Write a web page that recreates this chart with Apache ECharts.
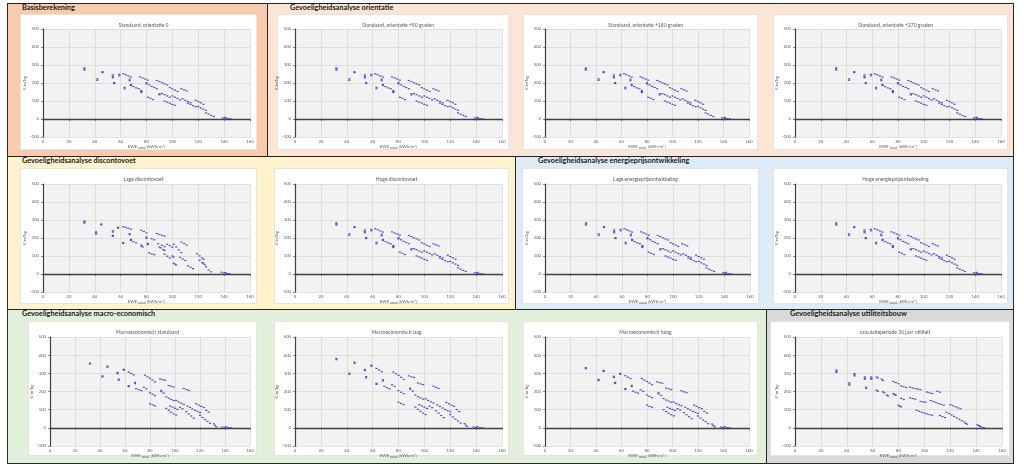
<!DOCTYPE html>
<html><head><meta charset="utf-8">
<script src="https://cdn.jsdelivr.net/npm/echarts@6/dist/echarts.min.js"></script>
<style>
html,body{margin:0;padding:0;background:#fff;width:1024px;height:473px;overflow:hidden;font-family:Lato,"Open Sans",sans-serif}
.panel{position:absolute;box-sizing:border-box;border:1px solid #262626}
.hdr{position:absolute;font-weight:bold;font-size:7.3px;color:#1a1a1a;white-space:nowrap;font-family:Lato,sans-serif}
.card{position:absolute;background:#fff;border:1px solid #e4e4e4;box-sizing:border-box}
#chart{position:absolute;left:0;top:0;width:1024px;height:473px}
</style></head>
<body>
<div id="bg"></div>
<div id="chart"></div>
<script>
// ---- data ----
const xTicks = [0, 20, 40, 60, 80, 100, 120, 140, 160];
const yTicks = [-100, 0, 100, 200, 300, 400, 500];

const dataStandaard = [
[32,284],[32,278],[32,272],[42,223],[42,215],[46,263],[46,258],
[54,245],[54,236],[54,229],[55,202],[55,197],[59,248],[59,240],[63,176],[63,168],
[62,251],[64,246],[66,239],[68,233],[67,221],[67,213],
[68,192],[68,186],[70,180],[72,173],[74,168],
[75,234],[77,228],[79,222],[81,216],
[76,158],[76,153],[76,147],[80,202],[80,195],[82,190],
[81,121],[83,115],[85,108],[84,181],[86,175],[88,168],
[88,214],[90,208],[92,201],[94,195],[96,189],
[90,140],[90,134],[92,141],[94,135],[96,128],[98,121],
[94,100],[96,94],[98,88],[100,81],[102,76],
[98,174],[100,167],[102,160],[104,153],
[100,128],[102,121],[104,114],[106,106],
[107,168],[109,162],[111,156],
[108,112],[110,104],[112,97],[114,90],
[112,88],[114,81],[116,74],[118,68],
[118,104],[120,97],[122,90],[124,82],
[120,70],[122,62],[124,55],[126,48],
[126,34],[128,27],[130,20],[132,14],
[139,6],[141,9],[141,4],[143,2],[145,1]
];

const dataLageDisconto = [
[32,294],[32,288],[32,283],[41,234],[41,228],[41,223],[45,278],[45,273],
[54,240],[54,233],[54,215],[54,209],[58,260],[58,254],[62,175],[62,169],
[62,263],[64,259],[66,254],[68,249],[67,224],[67,218],[68,192],[68,186],
[70,180],[72,173],[76,243],[78,236],[80,228],
[76,161],[76,155],[77,150],[80,205],[80,198],[81,170],[81,164],
[82,118],[84,112],[86,107],[84,196],[86,190],
[88,225],[90,220],[92,215],[94,211],
[89,168],[90,150],[91,145],[93,136],[94,131],
[92,160],[94,152],[96,165],[98,157],[100,149],
[94,110],[96,99],[98,89],[100,100],[101,94],[101,60],[102,55],[103,50],
[101,165],[103,150],[105,134],[107,119],
[107,177],[109,169],[111,161],
[106,92],[108,83],[110,75],[112,45],[114,37],[116,30],
[119,112],[121,101],[123,89],[124,82],[124,60],
[121,76],[123,63],[125,52],[126,40],[128,22],[130,12],
[138,10],[140,6],[141,8],[142,3],[144,2]
];

const dataMacroStandaard = [
[32,357],[32,351],[42,286],[42,280],[46,340],[46,334],
[54,305],[54,298],[55,268],[55,262],[59,322],[59,317],[63,232],[63,227],
[63,307],[65,299],[67,291],[68,250],[68,243],
[69,216],[71,210],[73,205],[75,223],[77,215],
[76,289],[78,281],[80,273],[82,263],[84,253],
[80,193],[82,185],[84,177],[80,132],[82,126],[84,121],
[88,269],[90,265],[92,262],[89,206],[89,199],[91,191],
[93,171],[95,163],[97,156],[99,150],[95,233],[97,229],[99,225],
[93,107],[95,96],[97,86],[99,77],[101,70],
[96,120],[98,114],[100,108],[102,102],
[101,151],[103,143],[105,136],[107,130],[104,113],[106,105],
[107,217],[109,211],[111,206],
[109,89],[111,77],[113,65],[115,53],
[110,120],[112,112],[114,104],[116,96],[118,90],[120,84],
[117,133],[119,125],[121,118],[123,112],
[120,69],[122,57],[124,46],[126,36],[128,25],
[125,96],[127,86],[131,22],[132,14],[133,6],
[138,4],[140,2],[141,6],[143,1],[145,0]
];

const dataMacroLaag = [
[32,382],[32,375],[42,301],[42,294],[46,362],[46,355],
[54,322],[54,315],[55,282],[55,275],[59,345],[59,339],[63,245],[63,239],
[63,327],[65,318],[67,309],[68,265],[68,258],
[69,229],[71,221],[73,215],[75,237],[77,228],
[76,307],[78,298],[80,289],[82,278],[84,267],
[80,205],[82,196],[84,188],[80,141],[82,134],[84,128],
[88,286],[90,281],[92,277],[89,219],[89,212],[91,203],
[93,181],[95,172],[97,165],[99,158],[95,247],[97,242],[99,238],
[93,114],[95,102],[97,91],[99,81],[101,73],
[101,160],[103,151],[105,143],[107,137],
[96,128],[98,121],[100,114],[102,107],[104,119],[106,111],
[107,229],[109,223],[111,217],
[109,94],[111,81],[113,68],[115,56],
[110,126],[112,118],[114,109],[116,101],[118,94],[120,88],
[117,140],[119,132],[121,124],[123,118],
[120,73],[122,60],[124,48],[126,38],[128,26],
[125,101],[127,90],[131,23],[132,15],[133,7],
[138,5],[140,2],[141,7],[143,1],[145,0]
];

const dataMacroHoog = [
[32,332],[32,326],[42,266],[42,260],[46,316],[46,310],
[54,284],[54,277],[55,250],[55,244],[59,300],[59,295],[63,216],[63,211],
[63,287],[65,279],[67,272],[68,234],[68,227],
[69,202],[71,196],[73,191],[75,209],[77,201],
[76,271],[78,263],[80,255],[82,246],[84,237],
[80,181],[82,173],[84,166],[80,125],[82,118],[84,113],
[88,253],[90,249],[92,245],[89,193],[89,187],[91,179],
[93,161],[95,153],[97,147],[99,141],[95,219],[97,215],[99,211],
[93,100],[95,90],[97,81],[99,72],[101,66],
[101,142],[103,134],[105,127],[107,122],
[96,113],[98,107],[100,101],[102,96],[104,106],[106,98],
[107,204],[109,198],[111,193],
[109,84],[111,72],[113,61],[115,50],
[110,113],[112,105],[114,98],[116,90],[118,85],[120,79],
[117,125],[119,118],[121,111],[123,106],
[120,65],[122,54],[124,43],[126,34],[128,23],
[125,90],[127,81],[131,21],[132,13],[133,6],
[138,4],[140,2],[141,6],[143,1],[145,0]
];

const dataUtiliteit = [
[32,318],[32,311],[32,305],[42,248],[42,241],[42,235],[46,298],[46,292],[46,286],
[54,280],[54,273],[54,268],[55,224],[55,217],[59,280],[59,273],[59,267],
[63,280],[64,275],[63,207],[64,202],[67,268],[68,261],[68,198],[69,193],[71,180],[72,175],
[76,255],[78,249],[80,243],[76,188],[77,183],[78,179],
[80,124],[81,119],[82,115],[82,231],[84,227],[86,222],[82,162],[84,156],
[89,224],[91,220],[93,216],[95,213],[97,210],
[89,165],[91,161],[93,158],[97,145],[99,143],[101,141],
[102,197],[104,193],[106,189],
[94,96],[96,91],[98,86],[100,81],[102,77],[104,73],[106,69],
[110,201],[112,196],
[105,150],[107,145],[109,139],[111,133],[113,129],[115,125],
[112,68],[114,62],[116,56],
[120,128],[122,122],[124,116],[126,110],[128,105],
[117,86],[119,79],[121,71],[123,63],[125,55],[127,47],[129,39],[131,32],
[132,24],[133,20],[141,16],[142,13],[143,8],[144,5],[146,1]
];

const chartTitles = [
'Standaard, orientatie 0','Standaard, orientatie +90 graden','Standaard, orientatie +180 graden','Standaard, orientatie +270 graden',
'Lage discontovoet','Hoge discontovoet','Lage energieprijsontwikkeling','Hoge energieprijsontwikkeling',
'Macroeconomisch standaard','Macroeconomisch laag','Macroeconomisch hoog','calculatieperiode 30 jaar utiliteit'
];
const chartData = [
dataStandaard, dataStandaard, dataStandaard, dataStandaard,
dataLageDisconto, dataStandaard, dataStandaard, dataStandaard,
dataMacroStandaard, dataMacroLaag, dataMacroHoog, dataUtiliteit
];
const panelHeaders = [
'Basisberekening','Gevoeligheidsanalyse orientatie','Gevoeligheidsanalyse discontovoet',
'Gevoeligheidsanalyse energieprijsontwikkeling','Gevoeligheidsanalyse macro-economisch','Gevoeligheidsanalyse utiliteitsbouw'
];

// ---- layout ----
const panels = [
{x:7,y:3,w:261,h:154,c:'#f8cbad'},
{x:267,y:3,w:747,h:154,c:'#fce4d6'},
{x:7,y:156,w:509,h:154,c:'#fff2cc'},
{x:515,y:156,w:499,h:154,c:'#ddebf7'},
{x:7,y:309,w:760,h:155,c:'#e2efda'},
{x:766,y:309,w:248,h:155,c:'#d9d9d9'}
];
const hdrPos = [[22,3],[290,3],[22,156],[538,156],[22,309],[790,309]];
const cards = [
[20,14,237,136],[277,14,232,136],[523,14,235,136],[773,14,235,136],
[20,168,237,136],[274,168,235,136],[522,168,237,136],[773,168,235,136],
[28,321,229,135],[274,321,235,135],[523,321,235,135],[770,321,240,135]
];
const grids = [
[43,29,207,108],[295,29,207,108],[545,29,204,108],[795,29,206,108],
[43,184,207,108],[295,184,207,108],[545,184,205,108],[795,184,206,108],
[50,337,200,109],[295,337,207,109],[545,337,204,109],[795,337,207,109]
];

const bg = document.getElementById('bg');
panels.forEach((p,i)=>{
  const d=document.createElement('div');d.className='panel';
  Object.assign(d.style,{left:p.x+'px',top:p.y+'px',width:p.w+'px',height:p.h+'px',background:p.c});
  bg.appendChild(d);
});
cards.forEach(c=>{
  const d=document.createElement('div');d.className='card';
  Object.assign(d.style,{left:c[0]+'px',top:c[1]+'px',width:c[2]+'px',height:c[3]+'px'});
  bg.appendChild(d);
});
panelHeaders.forEach((t,i)=>{
  const d=document.createElement('div');d.className='hdr';d.textContent=t;
  Object.assign(d.style,{left:hdrPos[i][0]+'px',top:hdrPos[i][1]+'px'});
  bg.appendChild(d);
});

const chart = echarts.init(document.getElementById('chart'), null, {renderer:'canvas'});
const labelColor = '#595959';
const option = {backgroundColor:'transparent', animation:false, title:[], grid:[], xAxis:[], yAxis:[], series:[]};
chartTitles.forEach((t,i)=>{
  const g = grids[i], c = cards[i];
  option.title.push({text:t, left:c[0]+c[2]/2, top:c[1]+4, textAlign:'center',
    textStyle:{fontSize:5, fontWeight:'normal', color:labelColor, fontFamily:'Lato'}});
  option.grid.push({left:g[0], top:g[1], width:g[2], height:g[3], show:true, backgroundColor:'#f2f2f2', borderWidth:0, containLabel:false});
  option.xAxis.push({gridIndex:i, type:'value', min:xTicks[0], max:xTicks[xTicks.length-1], interval:20,
    axisLine:{onZero:true, lineStyle:{color:'#404040', width:1.4}},
    axisTick:{show:true, length:2, lineStyle:{color:'#404040', width:0.6}},
    axisLabel:{fontSize:4.2, color:labelColor, margin:3, fontFamily:'Lato'},
    splitLine:{show:true, lineStyle:{color:'#d6d6d6', width:0.7}},
    name:'EWE {s|totaal} [kWh/m²]', nameLocation:'middle', nameGap:4,
    nameTextStyle:{fontSize:4.3, color:labelColor, fontFamily:'Lato', verticalAlign:'middle', rich:{s:{fontSize:3, color:labelColor, padding:[2,0,0,0]}}}
  });
  option.yAxis.push({gridIndex:i, type:'value', min:yTicks[0], max:yTicks[yTicks.length-1], interval:100,
    axisLine:{show:true, onZero:false, lineStyle:{color:'#404040', width:1.2}},
    axisTick:{show:true, length:2, lineStyle:{color:'#404040', width:0.6}},
    axisLabel:{fontSize:4.2, color:labelColor, margin:4, fontFamily:'Lato'},
    splitLine:{show:true, lineStyle:{color:'#d6d6d6', width:0.7}},
    name:'€/m²bg', nameLocation:'middle', nameGap:11,
    nameTextStyle:{fontSize:4.3, color:labelColor, fontFamily:'Lato'}
  });
  option.series.push({type:'scatter', xAxisIndex:i, yAxisIndex:i, data:chartData[i], symbol:'rect', symbolSize:[2.2,1.2],
    itemStyle:{color:'#2b2bc4'}, silent:true});
});
chart.setOption(option);
</script>
</body></html>
